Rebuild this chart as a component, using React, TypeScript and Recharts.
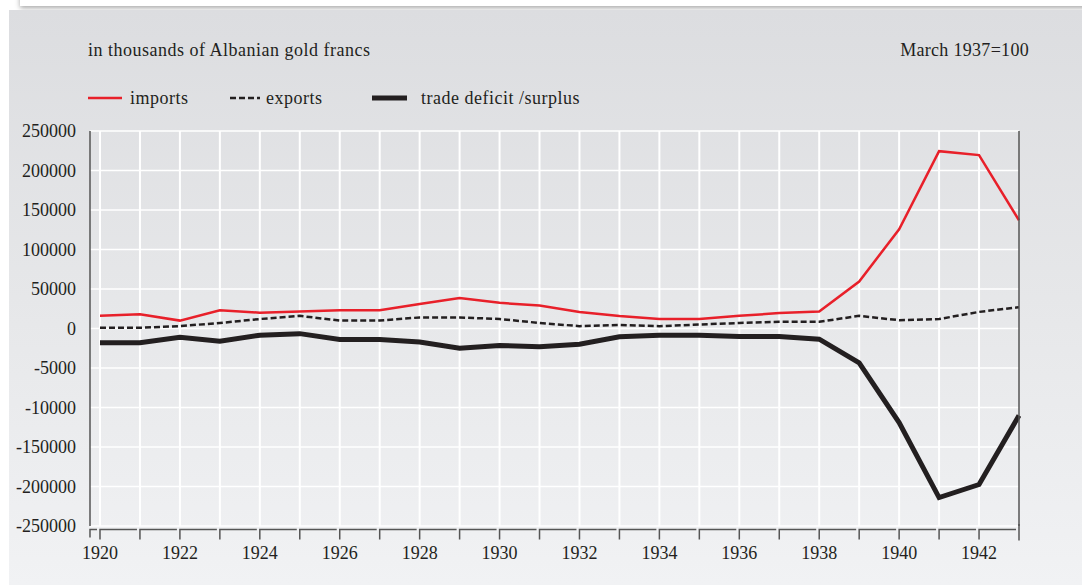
import React from 'react';
import { LineChart, Line, XAxis, YAxis, CartesianGrid, ReferenceLine } from 'recharts';

const years = [1920, 1921, 1922, 1923, 1924, 1925, 1926, 1927, 1928, 1929, 1930, 1931, 1932, 1933, 1934, 1935, 1936, 1937, 1938, 1939, 1940, 1941, 1942, 1943];
const imports = [16000, 18000, 10000, 23000, 20000, 21500, 23000, 23000, 31000, 38500, 32500, 29000, 21000, 15800, 12000, 12000, 16000, 19500, 21500, 59500, 125500, 224500, 219500, 137000];
const exportsData = [1000, 1000, 3000, 7000, 12000, 16000, 10000, 10000, 14000, 14000, 12000, 7000, 3000, 4500, 3000, 5000, 7000, 8500, 8500, 16000, 10500, 12000, 21000, 27000];
const deficit = [-18000, -18000, -11000, -16000, -8500, -6500, -14000, -14000, -17000, -25000, -21500, -23000, -20000, -10500, -8500, -8500, -10000, -10000, -13500, -43500, -119000, -214000, -197500, -110000];

const yTicks = [250000, 200000, 150000, 100000, 50000, 0, -50000, -100000, -150000, -200000, -250000];
const yTickLabels = ['250000', '200000', '150000', '100000', '50000', '0', '-5000', '-10000', '-150000', '-200000', '-250000'];
const xTicks = years;

const title = 'in thousands of Albanian gold francs';
const note = 'March 1937=100';

const series = [
  { key: 'imports', name: 'imports', color: '#e8202a', width: 2.5, dash: undefined as string | undefined },
  { key: 'exports', name: 'exports', color: '#231f20', width: 2.5, dash: '6 3' },
  { key: 'deficit', name: 'trade deficit /surplus', color: '#231f20', width: 5, dash: undefined as string | undefined },
];

const data = years.map((y, i) => ({ year: y, imports: imports[i], exports: exportsData[i], deficit: deficit[i] }));

const FONT = '"Liberation Serif", "Times New Roman", serif';
const TEXT = '#231f20';
const AXIS = '#555';

const W = 1082;
const H = 585;
const LEFT_W = 90;
const RIGHT_W = 63;
const X_DOMAIN: [number, number] = [1919.75, 1943];
const STEP = (W - LEFT_W - RIGHT_W) / (X_DOMAIN[1] - X_DOMAIN[0]);

const labelFor = (v: number) => {
  const i = yTicks.indexOf(v);
  return i >= 0 ? yTickLabels[i] : String(v);
};

const XTick = (props: any) => {
  const { x, y, payload } = props;
  const v = payload.value as number;
  const y0 = y + 3.5;
  if (v === 1943) {
    return <line x1={x} x2={x} y1={y - 2} y2={y0 + 11} stroke={AXIS} strokeWidth={1.5} />;
  }
  return (
    <g>
      <path d={`M${x},${y0 + 10}V${y0}H${x + STEP - 3}`} stroke={AXIS} strokeWidth={1.5} fill="none" />
      {v === 1920 && <path d={`M${x - 10},${y0 + 8}V${y0}H${x - 3}`} stroke={AXIS} strokeWidth={1.5} fill="none" />}
      {v % 2 === 0 && (
        <text x={x} y={y0 + 29} textAnchor="middle" fontFamily={FONT} fontSize={18} fill={TEXT}>
          {v}
        </text>
      )}
    </g>
  );
};

const LeftTick = (props: any) => {
  const { x, y, payload } = props;
  return (
    <text x={x - 14} y={y + 6} textAnchor="end" fontFamily={FONT} fontSize={18} fill={TEXT}>
      {labelFor(payload.value)}
    </text>
  );
};

const RightTick = (props: any) => {
  const { x, y, payload } = props;
  return (
    <text x={x + 6} y={y + 6} textAnchor="start" fontFamily={FONT} fontSize={18} fill={TEXT}>
      {labelFor(payload.value)}
    </text>
  );
};

const legendPos = [
  { lineX: 88, lineW: 34, textX: 130 },
  { lineX: 230, lineW: 30, textX: 266 },
  { lineX: 372, lineW: 35, textX: 421 },
];

export default function App() {
  return (
    <div style={{ position: 'absolute', left: 0, top: 0, width: W, height: H, background: '#fff', overflow: 'hidden' }}>
      <div
        style={{
          position: 'absolute',
          left: 20,
          top: -40,
          width: 1100,
          height: 46,
          background: '#fff',
          boxShadow: '0 2px 5px rgba(0,0,0,0.35)',
        }}
      />
      <div
        style={{
          position: 'absolute',
          left: 9,
          top: 10,
          width: W - 9,
          height: H - 10,
          background: 'linear-gradient(to bottom, #dcdde0 0%, #e6e7e9 50%, #f1f2f4 100%)',
        }}
      />
      <svg width={W} height={140} style={{ position: 'absolute', left: 0, top: 0 }}>
        <text x={88} y={56} fontFamily={FONT} fontSize={18} letterSpacing={0.5} fill={TEXT}>
          {title}
        </text>
        <text x={1029} y={56} textAnchor="end" fontFamily={FONT} fontSize={18} letterSpacing={0.3} fill={TEXT}>
          {note}
        </text>
        {series.map((s, i) => (
          <g key={s.key}>
            <line
              x1={legendPos[i].lineX}
              x2={legendPos[i].lineX + legendPos[i].lineW}
              y1={98}
              y2={98}
              stroke={s.color}
              strokeWidth={s.width}
              strokeDasharray={s.dash}
            />
            <text x={legendPos[i].textX} y={104} fontFamily={FONT} fontSize={18} letterSpacing={0.5} fill={TEXT}>
              {s.name}
            </text>
          </g>
        ))}
      </svg>
      <div style={{ position: 'absolute', left: 0, top: 0 }}>
        <LineChart width={W} height={H} data={data} margin={{ top: 131, right: 0, bottom: 19, left: 0 }}>
          <CartesianGrid yAxisId="left" stroke="#ffffff" strokeWidth={1.5} vertical={false} />
          {xTicks.slice(0, -1).map((t) => (
            <ReferenceLine key={`v${t}`} x={t} yAxisId="left" stroke="#ffffff" strokeWidth={2} />
          ))}
          <XAxis
            dataKey="year"
            type="number"
            domain={X_DOMAIN}
            ticks={xTicks}
            interval={0}
            height={40}
            axisLine={false}
            tickLine={false}
            tickSize={0}
            tickMargin={0}
            tick={<XTick />}
          />
          <YAxis
            yAxisId="left"
            type="number"
            domain={[-250000, 250000]}
            ticks={yTicks}
            interval={0}
            width={LEFT_W}
            axisLine={{ stroke: AXIS, strokeWidth: 1.5 }}
            tickLine={false}
            tickSize={0}
            tickMargin={0}
            tick={<LeftTick />}
          />
          <YAxis
            yAxisId="right"
            orientation="right"
            type="number"
            domain={[-250000, 250000]}
            ticks={yTicks}
            interval={0}
            width={RIGHT_W}
            axisLine={{ stroke: AXIS, strokeWidth: 1.5 }}
            tickLine={false}
            tickSize={0}
            tickMargin={0}
            tick={<RightTick />}
          />
          {series.map((s) => (
            <Line
              key={s.key}
              yAxisId="left"
              type="linear"
              dataKey={s.key}
              name={s.name}
              stroke={s.color}
              strokeWidth={s.width}
              strokeDasharray={s.dash}
              dot={false}
              activeDot={false}
              isAnimationActive={false}
            />
          ))}
        </LineChart>
      </div>
    </div>
  );
}
